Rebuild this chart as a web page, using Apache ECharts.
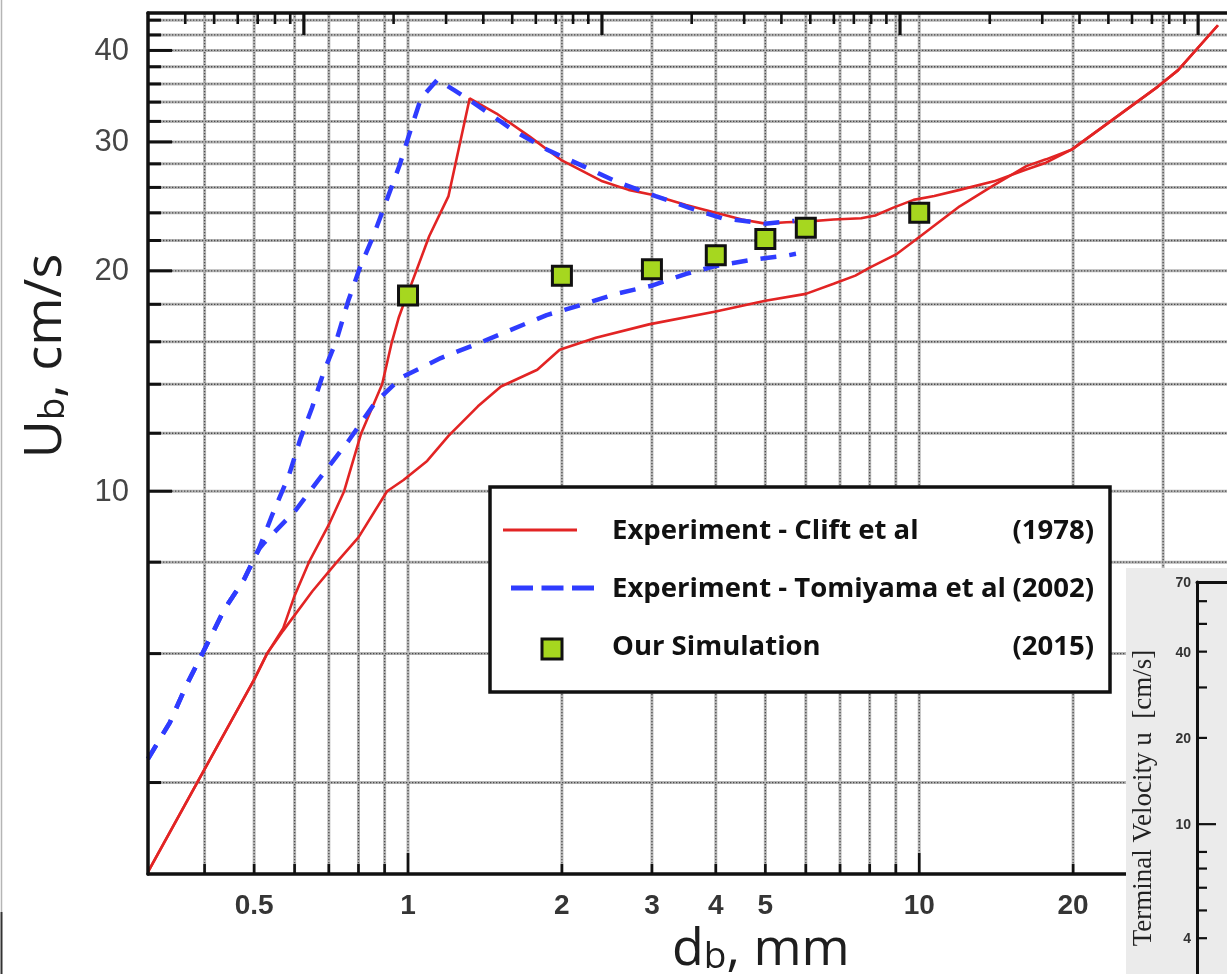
<!DOCTYPE html>
<html>
<head>
<meta charset="utf-8">
<script src="https://cdn.jsdelivr.net/npm/echarts@6/dist/echarts.min.js"></script>
<style>
  html, body { margin: 0; padding: 0; background: #ffffff; }
  #chart { width: 1227px; height: 974px; }
</style>
</head>
<body>
<div id="chart"></div>
<script>
// Terminal rise velocity of air bubbles in water vs. bubble diameter (log-log)

// Clift et al (1978) - two experimental curves, [d_b mm, U_b cm/s]
const cliftUpper = [
  [0.31, 3.02], [0.39, 4.04], [0.5, 5.53], [0.53, 6.0], [0.57, 6.5], [0.6, 7.2],
  [0.64, 8.0], [0.7, 9.0], [0.75, 10.0], [0.81, 12.0], [0.89, 14.0], [0.93, 16.0],
  [0.96, 17.3], [0.98, 18.0], [1.01, 19.0], [1.1, 22.3], [1.2, 25.3], [1.32, 34.4],
  [1.49, 32.8], [1.73, 30.5], [2.0, 28.3], [2.4, 26.5], [2.7, 25.8], [3.0, 25.4],
  [3.5, 24.6], [4.0, 24.0], [4.5, 23.5], [5.0, 23.2], [5.5, 23.3], [6.0, 23.35],
  [6.8, 23.5], [7.7, 23.6], [8.2, 23.8], [8.9, 24.4], [9.75, 25.0], [10.7, 25.3],
  [12, 25.8], [14, 26.5], [16.2, 27.5], [17.7, 28.1], [19.9, 29.3], [23.8, 32.1],
  [29.3, 35.7], [32.1, 37.6], [38.4, 43.3]
];
const cliftLower = [
  [0.31, 3.02], [0.39, 4.04], [0.5, 5.53], [0.53, 6.0], [0.57, 6.45], [0.65, 7.3],
  [0.72, 7.95], [0.8, 8.65], [0.91, 10.0], [0.98, 10.36], [1.09, 11.0], [1.2, 11.9],
  [1.37, 13.06], [1.52, 13.9], [1.79, 14.65], [1.98, 15.6], [2.33, 16.2], [2.96, 16.9],
  [4.0, 17.6], [5.0, 18.2], [6.0, 18.6], [6.8, 19.2], [7.5, 19.7], [8.0, 20.2],
  [9.05, 21.1], [10.05, 22.3], [12, 24.5], [13.9, 26.1], [16.2, 27.8], [17.7, 28.4],
  [19.9, 29.3], [23.8, 32.1], [29.3, 35.7], [32.1, 37.6], [38.4, 43.3]
];

// Tomiyama et al (2002) - two experimental curves
const tomiyamaUpper = [
  [0.31, 4.31], [0.342, 4.83], [0.368, 5.42], [0.397, 6.02], [0.437, 6.89], [0.478, 7.58],
  [0.511, 8.34], [0.543, 9.3], [0.584, 10.48], [0.616, 11.8], [0.649, 13.0], [0.683, 14.5],
  [0.725, 16.1], [0.764, 18.2], [0.805, 20.2], [0.855, 22.3], [0.907, 24.9], [0.963, 27.9],
  [1.014, 31.3], [1.06, 34.4], [1.142, 36.5], [1.231, 35.3], [1.346, 33.9], [1.609, 31.1],
  [1.867, 29.3], [2.2, 27.8], [2.55, 26.5], [3.05, 25.3], [3.54, 24.4], [4.11, 23.6],
  [4.99, 23.2], [5.7, 23.4]
];
const tomiyamaLower = [
  [0.31, 4.31], [0.342, 4.83], [0.368, 5.42], [0.397, 6.02], [0.437, 6.89], [0.478, 7.58],
  [0.511, 8.34], [0.523, 8.5], [0.602, 9.41], [0.678, 10.5], [0.764, 11.7], [0.861, 13.2],
  [0.97, 14.3], [1.159, 15.2], [1.366, 15.9], [1.585, 16.6], [1.867, 17.4], [2.2, 18.0],
  [2.55, 18.6], [3.01, 19.1], [3.49, 19.8], [3.99, 20.3], [4.7, 20.7], [5.54, 21.0],
  [5.74, 21.1]
];

// Our simulation (2015)
const simDiameter = [1, 2, 3, 4, 5, 6, 10];
const simVelocity = [18.5, 19.7, 20.1, 21.0, 22.1, 22.9, 24.0];

// Main axes: ranges, grid lines, ticks and labels
const X_MIN = 0.31, X_MAX = 40;
const Y_MIN = 3, Y_MAX = 45;
const xGridValues = [0.4, 0.5, 0.6, 0.7, 0.8, 0.9, 1, 2, 3, 4, 5, 6, 7, 8, 9, 10, 20, 30];
const xMajorTicks = [1, 10];
const xTickLabels = [0.5, 1, 2, 3, 4, 5, 10, 20];
const yGridValues = [4, 6, 8, 10, 12, 14, 16, 18, 20, 22, 24, 26, 28, 30, 32, 34, 36, 38, 40, 42, 44];
const yTickLabels = [10, 20, 30, 40];

// Top frame axis (log decades)
const TOP_MIN = 0.3, TOP_MAX = 1250;
const topTickValues = [
  0.4, 0.5, 0.6, 0.7, 0.8, 0.9, 1, 2, 3, 4, 5, 6, 7, 8, 9,
  10, 20, 30, 40, 50, 60, 70, 80, 90, 100, 200, 300, 400, 500, 600, 700, 800, 900, 1000
];
const topMajorTicks = [1, 10, 100, 1000];

// Side panel: terminal velocity axis
const INSET_MIN = 3, INSET_MAX = 70;
const insetTickValues = [4, 5, 6, 7, 8, 10, 20, 30, 40, 50, 60];
const insetMajorTicks = [10];
const insetTickLabels = [4, 10, 20, 40, 70];

// Legend entries
const legendNames = ['Experiment - Clift et al', 'Experiment - Tomiyama et al', 'Our Simulation'];
const legendYears = ['(1978)', '(2002)', '(2015)'];

const INK = '#111111';
const RED = '#e22424';
const BLUE = '#2f3cff';
const GREEN = '#a6d71f';
const GRID_BASE = '#b6b6b6';
const GRID_DOT = '#4c4c4c';
const LEGEND_FONT = 'bold 27.5px "Open Sans", sans-serif';

function gridLine(x1, y1, x2, y2) {
  return [
    { type: 'line', shape: { x1, y1, x2, y2 }, style: { stroke: GRID_BASE, lineWidth: 3 } },
    { type: 'line', shape: { x1, y1, x2, y2 }, style: { stroke: GRID_DOT, lineWidth: 1.3, lineDash: [1.3, 1.7] } }
  ];
}
function tick(x1, y1, x2, y2, w) {
  return { type: 'line', shape: { x1, y1, x2, y2 }, style: { stroke: INK, lineWidth: w || 3 } };
}
function label(text, x, y, align, vAlign, font, fill) {
  return {
    type: 'text', x, y,
    style: { text, font, fill, align, verticalAlign: vAlign, textAlign: align, textVerticalAlign: vAlign }
  };
}
function legendText(text, x, y, align) {
  return {
    type: 'text', z: 21, x, y,
    style: { text, font: LEGEND_FONT, fill: '#111', align, verticalAlign: 'middle', textAlign: align, textVerticalAlign: 'middle' }
  };
}
const has = (arr, v) => arr.some(a => Math.abs(a - v) < 1e-9);

const chart = echarts.init(document.getElementById('chart'), null, { renderer: 'canvas' });

const noAxisParts = {
  axisTick: { show: false }, axisLabel: { show: false }, splitLine: { show: false },
  minorTick: { show: false }, minorSplitLine: { show: false }
};

const titleRich = {
  m: { fontSize: 52, fontFamily: '"Open Sans", sans-serif', fill: '#1e1e1e', color: '#1e1e1e', lineHeight: 60, verticalAlign: 'bottom' },
  s: { fontSize: 37, fontFamily: '"Open Sans", sans-serif', fill: '#1e1e1e', color: '#1e1e1e', lineHeight: 36, verticalAlign: 'bottom' }
};

const option = {
  animation: false,
  backgroundColor: '#ffffff',
  grid: [
    { left: 148, top: 13, right: -8, bottom: 100, show: false },
    { left: 1197, top: 582, right: -60, bottom: -5, show: false }
  ],
  xAxis: [
    Object.assign({ type: 'log', gridIndex: 0, min: X_MIN, max: X_MAX, position: 'bottom', z: 10,
      axisLine: { show: true, onZero: false, lineStyle: { color: INK, width: 3.5 } } }, noAxisParts),
    Object.assign({ type: 'log', gridIndex: 0, min: TOP_MIN, max: TOP_MAX, position: 'top', z: 10,
      axisLine: { show: true, onZero: false, lineStyle: { color: INK, width: 3.5 } } }, noAxisParts),
    Object.assign({ type: 'value', gridIndex: 1, min: 0, max: 1, position: 'top', z: 60,
      axisLine: { show: true, onZero: false, lineStyle: { color: INK, width: 3 } } }, noAxisParts)
  ],
  yAxis: [
    Object.assign({ type: 'log', gridIndex: 0, min: Y_MIN, max: Y_MAX, position: 'left', z: 10,
      axisLine: { show: true, onZero: false, lineStyle: { color: INK, width: 3.5 } } }, noAxisParts),
    Object.assign({ type: 'log', gridIndex: 1, min: INSET_MIN, max: INSET_MAX, position: 'left', z: 60,
      axisLine: { show: true, onZero: false, lineStyle: { color: INK, width: 3 } } }, noAxisParts)
  ],
  series: [
    // vertical grid lines
    {
      type: 'custom', xAxisIndex: 0, yAxisIndex: 0, z: 1, silent: true,
      data: xGridValues.map(v => [v, Y_MIN]),
      renderItem(params, api) {
        const cs = params.coordSys;
        const x = api.coord([api.value(0), api.value(1)])[0];
        return { type: 'group', children: gridLine(x, cs.y, x, cs.y + cs.height) };
      }
    },
    // horizontal grid lines
    {
      type: 'custom', xAxisIndex: 0, yAxisIndex: 0, z: 1, silent: true,
      data: yGridValues.map(v => [X_MIN, v]),
      renderItem(params, api) {
        const cs = params.coordSys;
        const y = api.coord([api.value(0), api.value(1)])[1];
        return { type: 'group', children: gridLine(cs.x, y, cs.x + cs.width, y) };
      }
    },
    // bottom ticks and labels
    {
      type: 'custom', xAxisIndex: 0, yAxisIndex: 0, z: 5, silent: true,
      data: xGridValues.map(v => [v, Y_MIN]),
      renderItem(params, api) {
        const cs = params.coordSys;
        const v = api.value(0);
        const x = api.coord([v, api.value(1)])[0];
        const bottom = cs.y + cs.height;
        const children = [tick(x, bottom, x, bottom - (has(xMajorTicks, v) ? 21 : 10), 2.6)];
        if (has(xTickLabels, v)) {
          children.push(label(String(v), x, bottom + 32, 'center', 'middle',
            'bold 28px "Liberation Sans", Arial, sans-serif', '#353535'));
        }
        return { type: 'group', children };
      }
    },
    // left ticks and labels
    {
      type: 'custom', xAxisIndex: 0, yAxisIndex: 0, z: 5, silent: true,
      data: yGridValues.map(v => [X_MIN, v]),
      renderItem(params, api) {
        const cs = params.coordSys;
        const v = api.value(1);
        const y = api.coord([api.value(0), v])[1];
        const major = has(yTickLabels, v);
        const children = [tick(cs.x, y, cs.x + (major ? 24 : 13), y, 3)];
        if (major) {
          children.push(label(String(v), cs.x - 19, y + 1, 'right', 'middle',
            '31px "Liberation Sans", Arial, sans-serif', '#454545'));
        }
        return { type: 'group', children };
      }
    },
    // top ticks
    {
      type: 'custom', xAxisIndex: 1, yAxisIndex: 0, z: 5, silent: true,
      data: topTickValues.map(v => [v, Y_MAX]),
      renderItem(params, api) {
        const cs = params.coordSys;
        const v = api.value(0);
        const x = api.coord([v, api.value(1)])[0];
        const major = has(topMajorTicks, v);
        return tick(x, cs.y, x, cs.y + (major ? 22 : 11), major ? 3.2 : 2.6);
      }
    },
    {
      name: 'Experiment - Clift et al (1978)', type: 'line', xAxisIndex: 0, yAxisIndex: 0, z: 3,
      data: cliftUpper, symbol: 'none', smooth: false,
      lineStyle: { color: RED, width: 2.6 }
    },
    {
      name: 'Experiment - Clift et al (1978) ', type: 'line', xAxisIndex: 0, yAxisIndex: 0, z: 3,
      data: cliftLower, symbol: 'none', smooth: false,
      lineStyle: { color: RED, width: 2.6 }
    },
    {
      name: 'Experiment - Tomiyama et al (2002)', type: 'line', xAxisIndex: 0, yAxisIndex: 0, z: 3,
      data: tomiyamaUpper, symbol: 'none', smooth: false,
      lineStyle: { color: BLUE, width: 4.5, type: [16, 13] }
    },
    {
      name: 'Experiment - Tomiyama et al (2002) ', type: 'line', xAxisIndex: 0, yAxisIndex: 0, z: 3,
      data: tomiyamaLower, symbol: 'none', smooth: false,
      lineStyle: { color: BLUE, width: 4.5, type: [16, 13] }
    },
    {
      name: 'Our Simulation (2015)', type: 'scatter', xAxisIndex: 0, yAxisIndex: 0, z: 6,
      data: simDiameter.map((d, i) => [d, simVelocity[i]]),
      symbol: 'rect', symbolSize: 19,
      itemStyle: { color: GREEN, borderColor: INK, borderWidth: 3, opacity: 1 }
    },
    // side panel ticks
    {
      type: 'custom', xAxisIndex: 2, yAxisIndex: 1, z: 61, silent: true,
      data: insetTickValues.map(v => [0, v]),
      renderItem(params, api) {
        const v = api.value(1);
        const p = api.coord([api.value(0), v]);
        return tick(p[0], p[1], p[0] + (has(insetMajorTicks, v) ? 19 : 10), p[1], 2.2);
      }
    },
    // side panel labels
    {
      type: 'custom', xAxisIndex: 2, yAxisIndex: 1, z: 61, silent: true,
      data: insetTickLabels.map(v => [0, v]),
      renderItem(params, api) {
        const v = api.value(1);
        const p = api.coord([api.value(0), v]);
        return label(String(v), p[0] - 6, p[1] + 1, 'right', 'middle',
          'bold 14px "Liberation Sans", Arial, sans-serif', '#333333');
      }
    }
  ],
  graphic: [
    // page edge marks on the left
    { type: 'line', z: 30, shape: { x1: 1.5, y1: 0, x2: 1.5, y2: 912 }, style: { stroke: '#b5b5b5', lineWidth: 1.5 } },
    { type: 'line', z: 30, shape: { x1: 1.5, y1: 912, x2: 1.5, y2: 974 }, style: { stroke: '#333333', lineWidth: 2 } },
    // axis titles
    {
      type: 'text', z: 30, x: 42, y: 356, rotation: Math.PI / 2,
      style: {
        text: '{m|U}{s|b}{m|, cm/s}',
        align: 'center', verticalAlign: 'middle', textAlign: 'center', textVerticalAlign: 'middle',
        rich: titleRich
      }
    },
    {
      type: 'text', z: 30, x: 672, y: 946,
      style: {
        text: '{m|d}{s|b}{m|, mm}',
        align: 'left', verticalAlign: 'middle', textAlign: 'left', textVerticalAlign: 'middle',
        rich: titleRich
      }
    },
    // legend box
    {
      type: 'group', z: 20,
      children: [
        { type: 'rect', z: 20, shape: { x: 490, y: 487, width: 620, height: 205 }, style: { fill: '#ffffff', stroke: INK, lineWidth: 3.5 } },
        { type: 'line', z: 21, shape: { x1: 503, y1: 530, x2: 577, y2: 530 }, style: { stroke: RED, lineWidth: 3 } },
        { type: 'line', z: 21, shape: { x1: 511, y1: 588, x2: 599, y2: 588 }, style: { stroke: BLUE, lineWidth: 5, lineDash: [22, 8.5] } },
        { type: 'rect', z: 21, shape: { x: 542, y: 639, width: 20, height: 20 }, style: { fill: GREEN, stroke: INK, lineWidth: 3 } },
        legendText(legendNames[0], 612, 531, 'left'),
        legendText(legendNames[1], 612, 589, 'left'),
        legendText(legendNames[2], 612, 647, 'left'),
        legendText(legendYears[0], 1094, 531, 'right'),
        legendText(legendYears[1], 1094, 589, 'right'),
        legendText(legendYears[2], 1094, 647, 'right')
      ]
    },
    // side panel background and title
    { type: 'rect', z: 50, shape: { x: 1126, y: 568, width: 101, height: 406 }, style: { fill: '#ebebeb' } },
    {
      type: 'text', z: 61, x: 1144, y: 798, rotation: Math.PI / 2,
      style: {
        text: 'Terminal Velocity u  [cm/s]', font: '27px "Liberation Serif", "DejaVu Serif", serif', fill: '#222',
        align: 'center', verticalAlign: 'middle', textAlign: 'center', textVerticalAlign: 'middle'
      }
    }
  ]
};

chart.setOption(option);
</script>
</body>
</html>
